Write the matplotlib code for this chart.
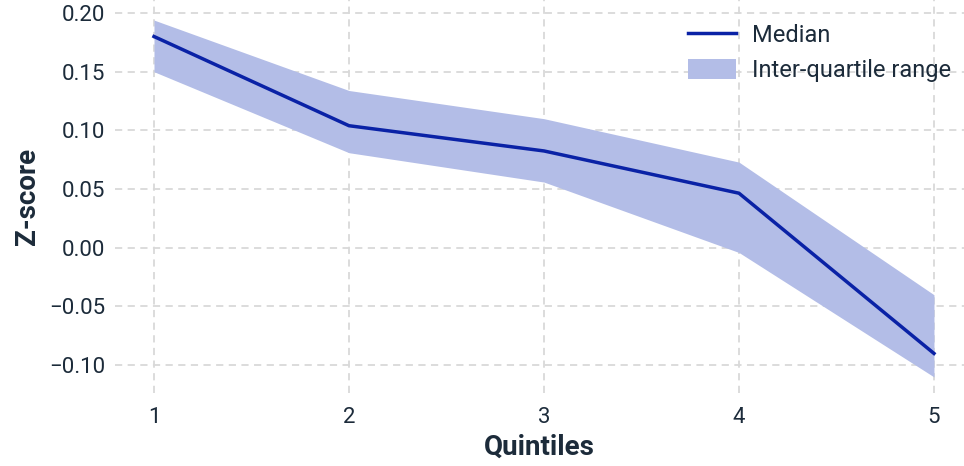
import matplotlib
matplotlib.use("Agg")
import matplotlib.pyplot as plt

# Quintile summary of the z-score
quintiles = [1, 2, 3, 4, 5]
median = [0.180, 0.104, 0.0825, 0.0465, -0.090]
q_low = [0.150, 0.081, 0.056, -0.004, -0.110]
q_high = [0.194, 0.134, 0.110, 0.073, -0.040]

plt.rcParams['font.family'] = ['Roboto', 'DejaVu Sans']
text_col = '#1c2b3a'
line_col = '#0a22a6'
band_col = '#b3bde7'

fig = plt.figure(figsize=(9.64, 4.66), dpi=100)
ax = fig.add_axes([115 / 964, 1 - 393 / 466, 1 - 115 / 964, 393 / 466])

band = ax.fill_between(quintiles, q_low, q_high, color=band_col, linewidth=0,
                       label='Inter-quartile range', zorder=2)
line, = ax.plot(quintiles, median, color=line_col, linewidth=2.5, label='Median', zorder=3)

ax.set_xlim(0.8, 5.154)
ax.set_ylim(-0.1237, 0.2111)
ax.set_xticks(quintiles)
ax.set_yticks([-0.10, -0.05, 0.00, 0.05, 0.10, 0.15, 0.20])
ax.set_yticklabels(['\u22120.10', '\u22120.05', '0.00', '0.05', '0.10', '0.15', '0.20'])

ax.grid(True, color='#d9d9d9', linestyle=(0, (4, 3)), linewidth=1.3, zorder=0)
ax.set_axisbelow(True)
for s in ax.spines.values():
    s.set_visible(False)
ax.tick_params(length=0, labelsize=16, labelcolor=text_col)
ax.tick_params(axis='y', pad=7)
ax.tick_params(axis='x', pad=10)

ax.set_xlabel('Quintiles', fontsize=20, fontweight='bold', color=text_col, labelpad=4)
ax.set_ylabel('Z-score', fontsize=20, fontweight='bold', color=text_col, labelpad=6)

leg = ax.legend([line, band], ['Median', 'Inter-quartile range'], loc='upper right',
                frameon=False, fontsize=17, handlelength=2.0, handleheight=0.9,
                handletextpad=0.7, labelspacing=0.5,
                bbox_to_anchor=(1.01, 0.992))
for t in leg.get_texts():
    t.set_color(text_col)

fig.savefig('out.png', dpi=100)
